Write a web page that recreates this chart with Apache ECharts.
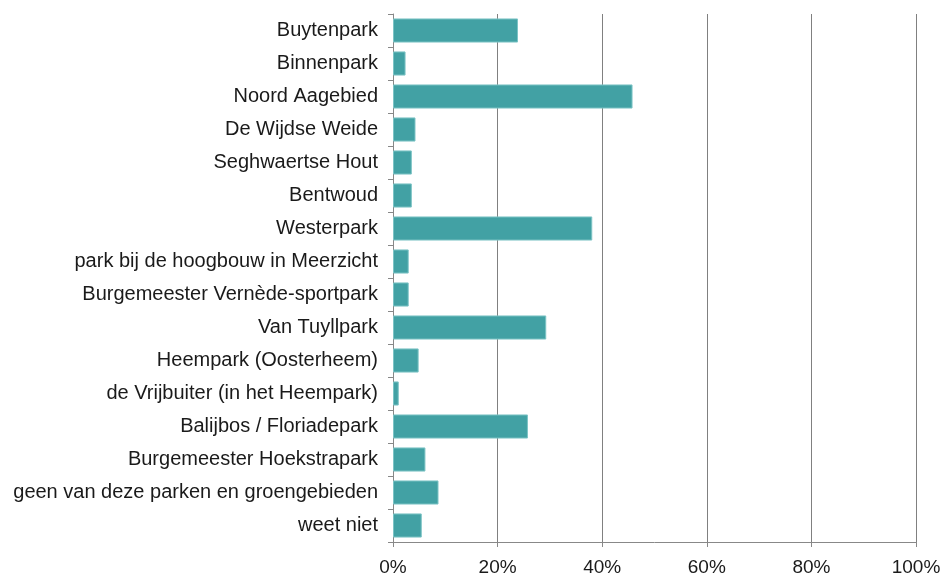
<!DOCTYPE html>
<html><head><meta charset="utf-8">
<script src="https://cdn.jsdelivr.net/npm/echarts@6/dist/echarts.min.js"></script>
<style>html,body{margin:0;padding:0;background:#fff}#c{width:946px;height:577px}</style>
</head><body><div id="c"></div>
<script>
const categories = ["Buytenpark","Binnenpark","Noord Aagebied","De Wijdse Weide","Seghwaertse Hout","Bentwoud","Westerpark","park bij de hoogbouw in Meerzicht","Burgemeester Vernède-sportpark","Van Tuyllpark","Heempark (Oosterheem)","de Vrijbuiter (in het Heempark)","Balijbos / Floriadepark","Burgemeester Hoekstrapark","geen van deze parken en groengebieden","weet niet"];
const values = [23.9, 2.4, 45.8, 4.3, 3.6, 3.6, 38.1, 3.0, 3.0, 29.3, 4.9, 1.1, 25.8, 6.2, 8.7, 5.5];
const xTicks = [0, 20, 40, 60, 80, 100];

const chart = echarts.init(document.getElementById('c'), null, {renderer:'canvas'});
chart.setOption({
  animation:false,
  backgroundColor:'#ffffff',
  grid:{left:393, right:30, top:14, bottom:33, containLabel:false},
  xAxis:{type:'value', min:xTicks[0], max:xTicks[xTicks.length-1], interval:20,
    axisLine:{show:true, lineStyle:{color:'#888888', width:1}},
    axisTick:{show:true, length:5, lineStyle:{color:'#888888'}},
    splitLine:{show:true, lineStyle:{color:'#808080', width:1}},
    axisLabel:{formatter:'{value}%', color:'#1a1a1a', fontFamily:'Liberation Sans, Arial', fontSize:19, margin:16}},
  yAxis:{type:'category', data:categories, inverse:true,
    axisLine:{show:true, lineStyle:{color:'#888888', width:1}},
    axisTick:{show:true, length:5, lineStyle:{color:'#888888'}},
    axisLabel:{color:'#1a1a1a', fontFamily:'Liberation Sans, Arial', fontSize:20, margin:15}},
  series:[{type:'bar', data:values, barCategoryGap:'27%',
    itemStyle:{color:'#42A1A4', borderColor:'#7cc3c5', borderWidth:1}}]
});
</script></body></html>
